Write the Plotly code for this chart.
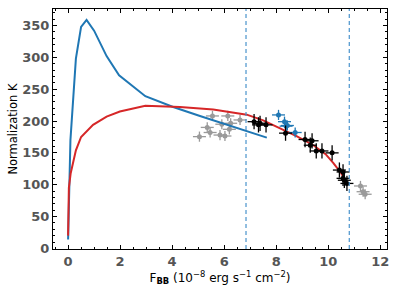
import plotly.graph_objects as go

# Model curves
blue_x = [0.0, 0.09, 0.3, 0.5, 0.71, 1.0, 1.48, 1.96, 2.97, 4.04, 5.07, 6.3, 7.64]
blue_y = [14, 170, 298, 348, 359, 342, 302, 272, 239, 222, 208, 192, 174]
red_x = [0.0, 0.03, 0.1, 0.3, 0.5, 0.96, 1.48, 1.99, 2.97, 4.3, 5.58, 6.87, 7.5, 8.15, 8.8, 9.43, 9.9, 10.2, 10.5, 10.72]
red_y = [20, 95, 118, 154, 175, 194, 207, 215, 224, 222, 218, 210, 201, 189, 176, 162, 148, 134, 118, 102]

# Observations
gray_x = [5.05, 5.35, 5.46, 5.55, 5.84, 5.91, 6.03, 6.14, 6.2, 6.25, 6.61, 11.24, 11.34, 11.42]
gray_y = [175.5, 190, 182, 208, 178, 195, 176.5, 208, 187, 196.5, 201.7, 98, 89, 85]
blue_px = [8.09, 8.32, 8.38, 8.43, 8.73]
blue_py = [209.6, 199, 192, 193, 182]
black_x = [7.15, 7.32, 7.38, 7.61, 8.36, 9.11, 9.31, 9.38, 9.54, 9.76, 10.15, 10.43, 10.57, 10.57, 10.62, 10.72]
black_y = [199, 194, 196.5, 194, 181, 171, 162, 169, 153, 153, 150, 123, 120, 110, 107, 102]

vlines = [6.84, 10.81]

xerr = 0.25
yerr_gray = 8
yerr = 12

fig = go.Figure()
fig.add_trace(go.Scatter(x=gray_x, y=gray_y, mode="markers",
                         marker=dict(color="#9a9a9a", size=5),
                         error_x=dict(type="constant", value=xerr, color="#9a9a9a", thickness=1.3, width=0),
                         error_y=dict(type="constant", value=yerr_gray, color="#9a9a9a", thickness=1.3, width=0)))
fig.add_trace(go.Scatter(x=blue_x, y=blue_y, mode="lines", line=dict(color="#1f77b4", width=2)))
fig.add_trace(go.Scatter(x=red_x, y=red_y, mode="lines", line=dict(color="#d62728", width=2)))
fig.add_trace(go.Scatter(x=blue_px, y=blue_py, mode="markers",
                         marker=dict(color="#1f77b4", size=5),
                         error_x=dict(type="constant", value=xerr, color="#1f77b4", thickness=1.3, width=0),
                         error_y=dict(type="constant", value=yerr_gray, color="#1f77b4", thickness=1.3, width=0)))
fig.add_trace(go.Scatter(x=black_x, y=black_y, mode="markers",
                         marker=dict(color="black", size=5),
                         error_x=dict(type="constant", value=xerr, color="black", thickness=1.3, width=0),
                         error_y=dict(type="constant", value=yerr, color="black", thickness=1.3, width=0)))
for v in vlines:
    fig.add_vline(x=v, line=dict(color="#4a94cc", width=1.2, dash="4px,3px"))

axis_common = dict(showgrid=False, zeroline=False, showline=True, linecolor="black", linewidth=1,
                   mirror="ticks", ticks="inside", ticklen=4, tickcolor="black", automargin=False,
                   tickfont=dict(family="DejaVu Sans", size=13, color="#555555", weight="bold"))
fig.update_xaxes(range=[-0.58, 12.26], dtick=2, tick0=0,
                 minor=dict(dtick=0.5, ticks="inside", ticklen=2, tickcolor="black"),
                 title=dict(text="F<sub><b>BB</b></sub> (10<sup>−8</sup> erg s<sup>−1</sup> cm<sup>−2</sup>)",
                            font=dict(family="DejaVu Sans", size=12, color="black"), standoff=3),
                 **axis_common)
fig.update_yaxes(range=[-1, 376], dtick=50, tick0=0, ticklabelstandoff=0,
                 minor=dict(dtick=10, ticks="inside", ticklen=2, tickcolor="black"),
                 title=dict(text="Normalization K",
                            font=dict(family="DejaVu Sans", size=11.5, color="black"), standoff=2),
                 **axis_common)
fig.update_layout(width=397, height=295, margin=dict(l=53, r=10, t=9, b=46),
                  plot_bgcolor="white", paper_bgcolor="white", showlegend=False)
fig.write_html("out.html", config={"displayModeBar": False},
               post_script="document.body.style.margin='0';")
